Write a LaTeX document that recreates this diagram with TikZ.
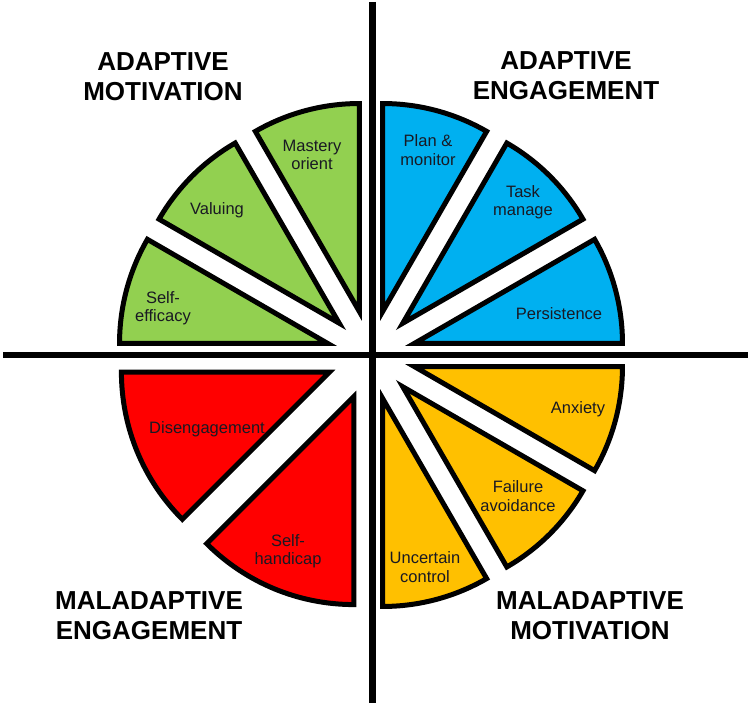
\documentclass[tikz,border=0pt]{standalone}
\usepackage{fontspec}
\setmainfont{Liberation Sans}
\usetikzlibrary{calc}
\definecolor{wgreen}{RGB}{146,208,80}
\definecolor{wblue}{RGB}{0,176,240}
\definecolor{wred}{RGB}{255,0,0}
\definecolor{worange}{RGB}{255,192,0}
\definecolor{labtxt}{RGB}{25,25,35}
\tikzset{
  wedge/.style={draw=black, line width=5pt, line join=miter},
  axis/.style={draw=black, line width=6pt},
  title/.style={align=center, font=\bfseries\fontsize{26}{30}\selectfont, text=black, inner sep=0pt},
  lab/.style={align=center, font=\fontsize{16.5}{18.5}\selectfont, text=labtxt, inner sep=0pt},
}
\newcommand{\wedgeat}[3]{% start angle, end angle, colour
  \pgfmathsetmacro{\wmid}{(#1+#2)/2}
  \fill[#3] ($(C)+(\wmid:45)$) -- ++(#1:208) arc[start angle=#1, end angle=#2, radius=208] -- cycle;
  \draw[wedge] ($(C)+(\wmid:45)$) -- ++(#1:208) arc[start angle=#1, end angle=#2, radius=208] -- cycle;
}
\begin{document}
\begin{tikzpicture}[x=1pt,y=1pt]
\useasboundingbox (0,0) rectangle (752,707);
\fill[white] (0,0) rectangle (752,707);
\coordinate (C) at (371,352);
% axes
\coordinate (top) at (372,705);
\coordinate (bot) at (372,4);
\coordinate (lft) at (3,352);
\coordinate (rgt) at (748,352);
\draw[axis] (lft) -- (rgt);
\draw[axis, line width=7pt] (top) -- (bot);
% green quadrant
\wedgeat{90}{120}{wgreen}
\wedgeat{120}{150}{wgreen}
\wedgeat{150}{180}{wgreen}
% blue quadrant
\wedgeat{0}{30}{wblue}
\wedgeat{30}{60}{wblue}
\wedgeat{60}{90}{wblue}
% red quadrant
\wedgeat{180}{225}{wred}
\wedgeat{225}{270}{wred}
% orange quadrant
\wedgeat{270}{300}{worange}
\wedgeat{300}{330}{worange}
\wedgeat{330}{360}{worange}
% labels
\node[lab] (mastery) at (312,552) {Mastery\\orient};
\node[lab] (valuing) at (217,497) {Valuing};
\node[lab] (selfeff) at (163,399) {Self-\\efficacy};
\node[lab] (plan) at (428,557) {Plan \&\\monitor};
\node[lab] (task) at (523,505) {Task\\manage};
\node[lab] (persist) at (559,393) {Persistence};
\node[lab] (diseng) at (207,278) {Disengagement};
\node[lab] (selfhand) at (288,156) {Self-\\handicap};
\node[lab] (anxiety) at (578,298) {Anxiety};
\node[lab] (failure) at (518,211) {Failure\\avoidance};
\node[lab] (uncert) at (425,140) {Uncertain\\control};
% titles
\node[title] (am) at (163,630) {ADAPTIVE\\MOTIVATION};
\node[title] (ae) at (566,631) {ADAPTIVE\\ENGAGEMENT};
\node[title] (me) at (149,91) {MALADAPTIVE\\ENGAGEMENT};
\node[title] (mm) at (590,91) {MALADAPTIVE\\MOTIVATION};
\end{tikzpicture}
\end{document}
